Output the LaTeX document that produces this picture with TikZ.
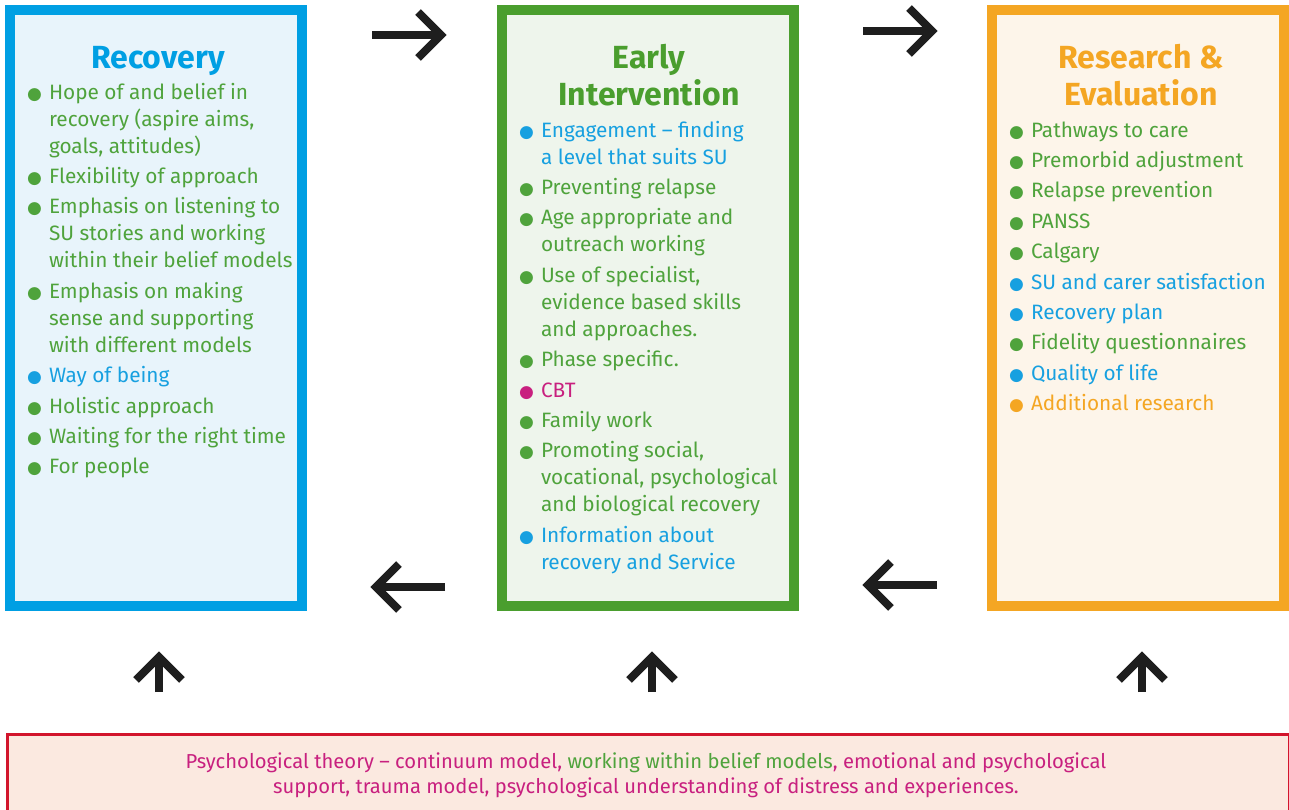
\documentclass[tikz,border=0pt]{standalone}
\usepackage{fontspec}
\setmainfont{Fira Sans}
\newfontfamily\dotfont{DejaVu Sans}
\usetikzlibrary{calc}

\definecolor{recblue}{HTML}{009FE3}
\definecolor{recfill}{HTML}{E8F4FB}
\definecolor{eigreen}{HTML}{4A9E2E}
\definecolor{eifill}{HTML}{EEF5EC}
\definecolor{resorange}{HTML}{F4A623}
\definecolor{resfill}{HTML}{FDF5EA}
\definecolor{txtgreen}{HTML}{4FA33C}
\definecolor{txtblue}{HTML}{17A0E0}
\definecolor{txtmag}{HTML}{C8207F}
\definecolor{txtorange}{HTML}{F4A623}
\definecolor{basered}{HTML}{D2152C}
\definecolor{basefill}{HTML}{FBE9E0}
\definecolor{arrowink}{HTML}{1E1E1E}

% one bullet item: dot hangs left of the text column
\newcommand{\bitem}[2]{\par\noindent\llap{\raisebox{0pt}{\textcolor{#1}{\dotfont\fontsize{17}{17}\selectfont ●}}\hspace{7pt}}\textcolor{#1}{#2}}
\newcommand{\listfont}{\fontsize{20.8}{27}\selectfont\setlength{\parskip}{3.4pt}}
\newcommand{\titlefont}{\fontsize{32}{37.5}\selectfont\bfseries}

\begin{document}
\begin{tikzpicture}[x=1pt,y=-1pt,
  panel/.style={draw=#1, line width=10pt, minimum width=292pt, minimum height=596pt, inner sep=0pt},
  listnode/.style={anchor=base west, inner sep=0pt, outer sep=0pt},
  titlenode/.style={anchor=base, inner sep=0pt, outer sep=0pt},
  arrowline/.style={draw=arrowink, line width=8pt, line join=miter, line cap=butt}]

\useasboundingbox (0,0) rectangle (1289,809);

% three panels
\node[panel=recblue, fill=recfill] (rec) at (156,308) {};
\node[panel=eigreen, fill=eifill] (ei) at (647.5,308) {};
\node[panel=resorange, fill=resfill] (res) at (1138,308) {};

% base panel
\node[draw=basered, fill=basefill, line width=2.5pt, minimum width=1282pt, minimum height=80pt, inner sep=0pt, anchor=north west] (base) at (6,733) {};

% titles
\node[titlenode] (rec-title) at (158,68) {\parbox[t]{280pt}{\centering\titlefont\leavevmode\textcolor{recblue}{Recovery}}};
\node[titlenode] (ei-title) at (649,68) {\parbox[t]{280pt}{\centering\titlefont\leavevmode\textcolor{eigreen}{Early\\Intervention}}};
\node[titlenode] (res-title) at (1141,68) {\parbox[t]{280pt}{\centering\titlefont\leavevmode\textcolor{resorange}{Research \&\\Evaluation}}};

% lists
\node[listnode] (rec-list) at (49,99) {\parbox[t]{260pt}{\listfont
\bitem{txtgreen}{Hope of and belief in\\recovery (aspire aims,\\goals, attitudes)}
\bitem{txtgreen}{Flexibility of approach}
\bitem{txtgreen}{Emphasis on listening to\\SU stories and working\\within their belief models}
\bitem{txtgreen}{Emphasis on making\\sense and supporting\\with different models}
\bitem{txtblue}{Way of being}
\bitem{txtgreen}{Holistic approach}
\bitem{txtgreen}{Waiting for the right time}
\bitem{txtgreen}{For people}}};

\node[listnode] (ei-list) at (541,137) {\parbox[t]{260pt}{\listfont
\bitem{txtblue}{Engagement -- finding\\a level that suits SU}
\bitem{txtgreen}{Preventing relapse}
\bitem{txtgreen}{Age appropriate and\\outreach working}
\bitem{txtgreen}{Use of specialist,\\evidence based skills\\and approaches.}
\bitem{txtgreen}{Phase specific.}
\bitem{txtmag}{CBT}
\bitem{txtgreen}{Family work}
\bitem{txtgreen}{Promoting social,\\vocational, psychological\\and biological recovery}
\bitem{txtblue}{Information about\\recovery and Service}}};

\node[listnode] (res-list) at (1031,137) {\parbox[t]{260pt}{\listfont
\bitem{txtgreen}{Pathways to care}
\bitem{txtgreen}{Premorbid adjustment}
\bitem{txtgreen}{Relapse prevention}
\bitem{txtgreen}{PANSS}
\bitem{txtgreen}{Calgary}
\bitem{txtblue}{SU and carer satisfaction}
\bitem{txtblue}{Recovery plan}
\bitem{txtgreen}{Fidelity questionnaires}
\bitem{txtblue}{Quality of life}
\bitem{txtorange}{Additional research}}};

% base text
\node[titlenode] (base-text) at (646,768) {\parbox[t]{1200pt}{\centering\fontsize{20.2}{25}\selectfont\leavevmode
\textcolor{txtmag}{Psychological theory -- continuum model, }\textcolor{txtgreen}{working within belief models}\textcolor{txtmag}{, emotional and psychological}\\
\textcolor{txtmag}{support, trauma model, psychological understanding of distress and experiences.}}};

% arrow end points
\coordinate (r1-tail) at (372,35);  \coordinate (r1-tip) at (441,35);
\coordinate (r2-tail) at (863,31);  \coordinate (r2-tip) at (932,31);
\coordinate (l1-tail) at (445,587); \coordinate (l1-tip) at (376,587);
\coordinate (l2-tail) at (937,585); \coordinate (l2-tip) at (868,585);
\coordinate (u1-tail) at (159,692); \coordinate (u1-tip) at (159,657);
\coordinate (u2-tail) at (652,692); \coordinate (u2-tip) at (652,657);
\coordinate (u3-tail) at (1142,692); \coordinate (u3-tip) at (1142,657);

% chevron arrows
\foreach \a in {r1,r2,l1,l2,u1,u2,u3}{
  \draw[arrowline] (\a-tail) -- (\a-tip);
  \draw[arrowline] ($(\a-tip)!32.5pt!45:(\a-tail)$) -- (\a-tip) -- ($(\a-tip)!32.5pt!-45:(\a-tail)$);
}
\end{tikzpicture}
\end{document}
